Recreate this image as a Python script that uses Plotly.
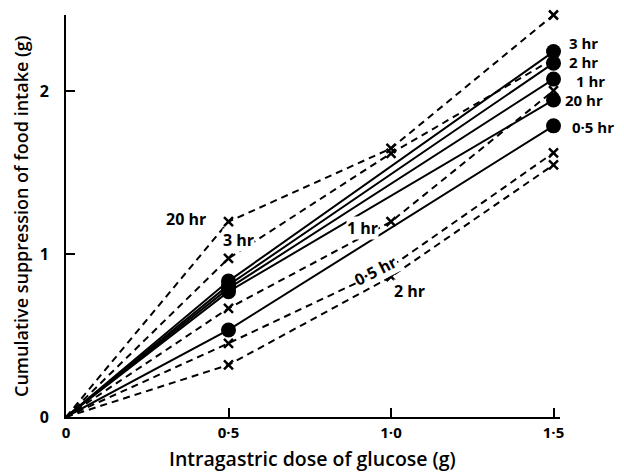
import plotly.graph_objects as go

# ---- data ----
dash_doses = [0, 0.5, 1.0, 1.5]
dash_20hr = [0, 1.20, 1.65, 2.47]
dash_3hr = [0, 0.975, 1.62, 2.20]
dash_1hr = [0, 0.668, 1.20, 2.005]
dash_05hr = [0, 0.453, 0.924, 1.623]
dash_2hr = [0, 0.32, 0.862, 1.549]

solid_doses = [0, 0.5, 1.5]
solid_3hr = [0, 0.835, 2.245]
solid_2hr = [0, 0.81, 2.174]
solid_1hr = [0, 0.79, 2.076]
solid_20hr = [0, 0.77, 1.948]
solid_05hr = [0, 0.535, 1.789]

x_tickvals = [0, 0.5, 1.0, 1.5]
x_ticktext = ["0", "0·5", "1·0", "1·5"]
y_tickvals = [0, 1, 2]
y_ticktext = ["0", "1", "2"]

x_title = "Intragastric dose of glucose (g)"
y_title = "Cumulative suppression of food intake (g)"

FONT = "Open Sans"
XMAX = 1.52
W, H = 624, 473
ML, MR, MT, MB = 66, 64, 15, 56
PW, PH = W - ML - MR, H - MT - MB

fig = go.Figure()

for ys in [dash_20hr, dash_3hr, dash_1hr, dash_05hr, dash_2hr]:
    fig.add_trace(go.Scatter(
        x=dash_doses, y=ys, mode="lines",
        line=dict(color="black", width=2, dash="7px,5px"),
        cliponaxis=False, showlegend=False, hoverinfo="skip"))
    fig.add_trace(go.Scatter(
        x=dash_doses[1:], y=ys[1:], mode="markers",
        marker=dict(symbol="x-thin", size=9, color="black", opacity=1,
                    line=dict(color="black", width=2.5)),
        cliponaxis=False, showlegend=False, hoverinfo="skip"))

for ys in [solid_3hr, solid_2hr, solid_1hr, solid_20hr, solid_05hr]:
    fig.add_trace(go.Scatter(
        x=solid_doses, y=ys, mode="lines",
        line=dict(color="black", width=2),
        cliponaxis=False, showlegend=False, hoverinfo="skip"))
    fig.add_trace(go.Scatter(
        x=solid_doses[1:], y=ys[1:], mode="markers",
        marker=dict(symbol="circle", size=15, color="black", opacity=1,
                    line=dict(width=0)),
        cliponaxis=False, showlegend=False, hoverinfo="skip"))

LABEL_FONT = dict(family=FONT, size=16, color="black", weight=700)
RIGHT_FONT = dict(family=FONT, size=15, color="black", weight=700)

labels = [
    ("20 hr", 0.369, 1.217, 0),
    ("3 hr", 0.532, 1.09, 0),
    ("1 hr", 0.911, 1.162, 0),
    ("0·5 hr", 0.951, 0.90, -27),
    ("2 hr", 1.058, 0.774, 0),
]
for t, x, y, ang in labels:
    fig.add_annotation(x=x, y=y, text=t, showarrow=False, textangle=ang,
                       font=LABEL_FONT, bgcolor="white", borderpad=0)

right_labels = [
    ("3 hr", 1.545, 2.298),
    ("2 hr", 1.545, 2.182),
    ("1 hr", 1.566, 2.066),
    ("20 hr", 1.531, 1.945),
    ("0·5 hr", 1.553, 1.782),
]
for t, x, y in right_labels:
    fig.add_annotation(x=x / XMAX, xref="paper", y=y, yref="y", text=t,
                       showarrow=False, xanchor="left", font=RIGHT_FONT,
                       borderpad=0)

# axis titles placed as annotations (pixel-accurate positions)
fig.add_annotation(x=(312 - ML) / PW, y=(H - MB - 458) / PH, xref="paper", yref="paper",
                   text=x_title, showarrow=False, xanchor="center", yanchor="middle",
                   font=dict(family=FONT, size=19.5, color="black", weight=600))
fig.add_annotation(x=(21 - ML) / PW, y=(H - MB - 217) / PH, xref="paper", yref="paper",
                   text=y_title, showarrow=False, textangle=-90,
                   xanchor="center", yanchor="middle",
                   font=dict(family=FONT, size=18, color="black", weight=600))

fig.update_layout(
    width=W, height=H,
    margin=dict(l=ML, r=MR, t=MT, b=MB),
    plot_bgcolor="white", paper_bgcolor="white",
    font=dict(family=FONT, size=16, color="black", weight=700),
    xaxis=dict(range=[0, XMAX], tickvals=x_tickvals, ticktext=x_ticktext,
               ticks="inside", ticklen=9, tickwidth=2, tickcolor="black",
               showline=True, linecolor="black", linewidth=2,
               showgrid=False, zeroline=False, ticklabelstandoff=1,
               tickfont=dict(family=FONT, size=15, weight=700),
               automargin=False),
    yaxis=dict(range=[0, 2.47], tickvals=y_tickvals, ticktext=y_ticktext,
               ticks="inside", ticklen=9, tickwidth=2, tickcolor="black",
               showline=True, linecolor="black", linewidth=2,
               showgrid=False, zeroline=False, ticklabelstandoff=12,
               tickfont=dict(family=FONT, size=16, weight=700),
               automargin=False),
)

fig.write_html("out.html", config={"displayModeBar": False},
               post_script="document.body.style.margin='0';")
